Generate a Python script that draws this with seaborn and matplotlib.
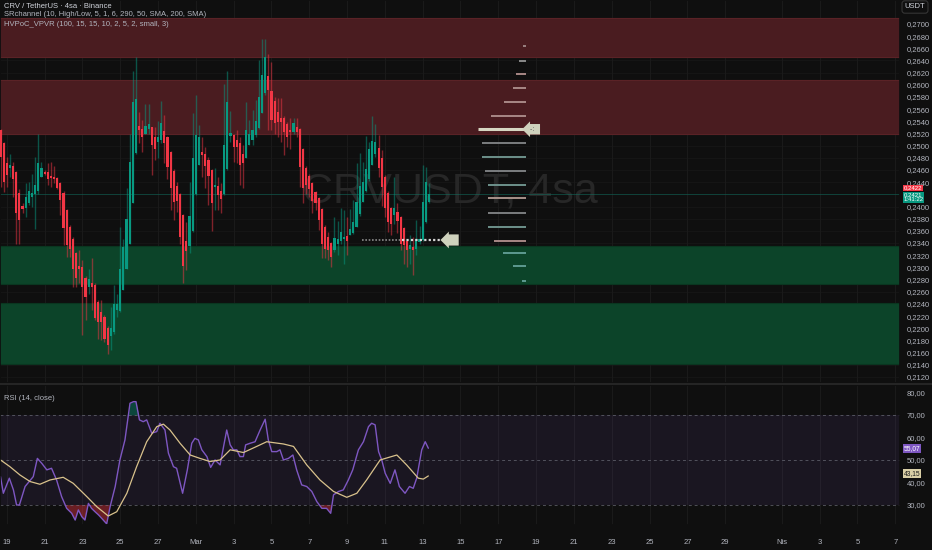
import matplotlib
matplotlib.use("Agg")
import matplotlib.pyplot as plt
import numpy as np
import seaborn as sns

# --- data: CRV/USDT 4h candles, first bar = Feb 18 16:00 ---
opens = [0.2526, 0.2504, 0.2472, 0.2463, 0.2466, 0.2457, 0.2423, 0.2401, 0.2397, 0.2406,
         0.2416, 0.2420, 0.2425, 0.2449, 0.2457, 0.2457, 0.2450, 0.2449, 0.2447, 0.2438,
         0.2423, 0.2394, 0.2366, 0.2347, 0.2323, 0.2303, 0.2301, 0.2283, 0.2268, 0.2274,
         0.2271, 0.2243, 0.2227, 0.2219, 0.2201, 0.2187, 0.2194, 0.2230, 0.2229, 0.2263,
         0.2298, 0.2339, 0.2406, 0.2488, 0.2532, 0.2528, 0.2520, 0.2528, 0.2531, 0.2515,
         0.2506, 0.2510, 0.2524, 0.2514, 0.2489, 0.2459, 0.2434, 0.2421, 0.2386, 0.2344,
         0.2335, 0.2360, 0.2420, 0.2469, 0.2490, 0.2487, 0.2476, 0.2460, 0.2432, 0.2434,
         0.2426, 0.2420, 0.2461, 0.2516, 0.2518, 0.2509, 0.2504, 0.2486, 0.2479, 0.2501,
         0.2509, 0.2517, 0.2529, 0.2553, 0.2586, 0.2614, 0.2590, 0.2573, 0.2555, 0.2546,
         0.2546, 0.2535, 0.2525, 0.2523, 0.2531, 0.2527, 0.2495, 0.2464, 0.2450, 0.2439,
         0.2424, 0.2414, 0.2396, 0.2367, 0.2350, 0.2340, 0.2328, 0.2339, 0.2344, 0.2347,
         0.2352, 0.2353, 0.2356, 0.2366, 0.2387, 0.2408, 0.2425, 0.2445, 0.2468, 0.2487,
         0.2497, 0.2479, 0.2449, 0.2423, 0.2398, 0.2386, 0.2391, 0.2383, 0.2364, 0.2343,
         0.2331, 0.2334, 0.2331, 0.2342, 0.2345, 0.2375, 0.2408]
highs = [0.2528, 0.2506, 0.2482, 0.2486, 0.2474, 0.2459, 0.2428, 0.2405, 0.2438, 0.2441,
         0.2453, 0.2482, 0.2520, 0.2474, 0.2460, 0.2471, 0.2474, 0.2466, 0.2449, 0.2440,
         0.2425, 0.2396, 0.2370, 0.2350, 0.2326, 0.2328, 0.2312, 0.2286, 0.2298, 0.2316,
         0.2274, 0.2246, 0.2246, 0.2222, 0.2203, 0.2235, 0.2271, 0.2257, 0.2367, 0.2347,
         0.2430, 0.2520, 0.2622, 0.2646, 0.2556, 0.2542, 0.2568, 0.2568, 0.2531, 0.2531,
         0.2541, 0.2574, 0.2550, 0.2516, 0.2491, 0.2461, 0.2441, 0.2423, 0.2388, 0.2375,
         0.2441, 0.2553, 0.2583, 0.2534, 0.2514, 0.2498, 0.2482, 0.2462, 0.2463, 0.2449,
         0.2438, 0.2602, 0.2623, 0.2557, 0.2520, 0.2526, 0.2515, 0.2501, 0.2571, 0.2542,
         0.2558, 0.2575, 0.2640, 0.2676, 0.2676, 0.2651, 0.2638, 0.2580, 0.2578, 0.2579,
         0.2548, 0.2539, 0.2545, 0.2545, 0.2545, 0.2529, 0.2497, 0.2466, 0.2454, 0.2441,
         0.2426, 0.2416, 0.2398, 0.2369, 0.2358, 0.2342, 0.2383, 0.2376, 0.2397, 0.2394,
         0.2383, 0.2396, 0.2411, 0.2472, 0.2488, 0.2474, 0.2516, 0.2506, 0.2549, 0.2535,
         0.2517, 0.2493, 0.2451, 0.2425, 0.2400, 0.2449, 0.2406, 0.2385, 0.2366, 0.2345,
         0.2353, 0.2350, 0.2378, 0.2368, 0.2468, 0.2465, 0.2438]
lows = [0.2432, 0.2424, 0.2432, 0.2449, 0.2416, 0.2339, 0.2339, 0.2389, 0.2383, 0.2402,
        0.2400, 0.2363, 0.2421, 0.2449, 0.2452, 0.2435, 0.2432, 0.2438, 0.2428, 0.2386,
        0.2337, 0.2317, 0.2317, 0.2268, 0.2268, 0.2274, 0.2189, 0.2213, 0.2257, 0.2230,
        0.2213, 0.2183, 0.2180, 0.2178, 0.2157, 0.2164, 0.2191, 0.2219, 0.2227, 0.2263,
        0.2298, 0.2339, 0.2406, 0.2487, 0.2504, 0.2490, 0.2520, 0.2519, 0.2452, 0.2476,
        0.2479, 0.2504, 0.2471, 0.2446, 0.2394, 0.2378, 0.2391, 0.2339, 0.2274, 0.2295,
        0.2323, 0.2358, 0.2419, 0.2468, 0.2449, 0.2430, 0.2402, 0.2360, 0.2394, 0.2394,
        0.2389, 0.2419, 0.2460, 0.2506, 0.2474, 0.2471, 0.2435, 0.2431, 0.2479, 0.2501,
        0.2501, 0.2515, 0.2528, 0.2553, 0.2583, 0.2526, 0.2526, 0.2520, 0.2515, 0.2506,
        0.2485, 0.2498, 0.2495, 0.2520, 0.2515, 0.2432, 0.2405, 0.2421, 0.2416, 0.2389,
        0.2394, 0.2361, 0.2315, 0.2315, 0.2312, 0.2300, 0.2326, 0.2320, 0.2339, 0.2306,
        0.2320, 0.2353, 0.2355, 0.2366, 0.2385, 0.2408, 0.2424, 0.2442, 0.2468, 0.2481,
        0.2449, 0.2401, 0.2383, 0.2358, 0.2353, 0.2372, 0.2356, 0.2328, 0.2305, 0.2300,
        0.2306, 0.2287, 0.2320, 0.2339, 0.2344, 0.2373, 0.2406]
closes = [0.2482, 0.2441, 0.2451, 0.2469, 0.2446, 0.2390, 0.2378, 0.2396, 0.2416, 0.2425,
          0.2423, 0.2435, 0.2472, 0.2463, 0.2454, 0.2446, 0.2447, 0.2446, 0.2430, 0.2411,
          0.2365, 0.2337, 0.2331, 0.2298, 0.2282, 0.2298, 0.2268, 0.2252, 0.2281, 0.2267,
          0.2216, 0.2211, 0.2211, 0.2183, 0.2173, 0.2201, 0.2240, 0.2240, 0.2298, 0.2334,
          0.2380, 0.2474, 0.2571, 0.2577, 0.2525, 0.2515, 0.2533, 0.2535, 0.2501, 0.2495,
          0.2515, 0.2538, 0.2504, 0.2465, 0.2430, 0.2408, 0.2409, 0.2350, 0.2303, 0.2327,
          0.2384, 0.2479, 0.2517, 0.2514, 0.2485, 0.2466, 0.2450, 0.2406, 0.2435, 0.2419,
          0.2413, 0.2501, 0.2571, 0.2521, 0.2498, 0.2498, 0.2468, 0.2472, 0.2526, 0.2519,
          0.2526, 0.2540, 0.2580, 0.2616, 0.2645, 0.2591, 0.2542, 0.2538, 0.2539, 0.2539,
          0.2522, 0.2515, 0.2522, 0.2537, 0.2523, 0.2465, 0.2431, 0.2435, 0.2428, 0.2409,
          0.2405, 0.2378, 0.2339, 0.2331, 0.2328, 0.2317, 0.2349, 0.2347, 0.2358, 0.2350,
          0.2344, 0.2363, 0.2374, 0.2408, 0.2434, 0.2440, 0.2461, 0.2495, 0.2508, 0.2506,
          0.2463, 0.2432, 0.2397, 0.2374, 0.2371, 0.2398, 0.2376, 0.2339, 0.2337, 0.2328,
          0.2337, 0.2328, 0.2346, 0.2347, 0.2408, 0.2440, 0.2421]

# SRchannel zones (low, high)
res_zones = [(0.2646, 0.2710), (0.2520, 0.2608)]
sup_zones = [(0.2273, 0.2335), (0.2142, 0.2242)]

# HVPoC_VPVR rows: price level, relative volume, colour
vp_prices = [0.2664, 0.2639, 0.2618, 0.2595, 0.2571, 0.2548, 0.2527, 0.2505, 0.2482,
             0.2459, 0.2435, 0.2414, 0.2390, 0.2367, 0.2344, 0.2323, 0.2302, 0.2278]
vp_volume = [3, 7, 10, 13, 22, 35, 48, 44, 44, 41, 38, 38, 38, 38, 32, 23, 13, 4]
vp_colors = ['#9a8080', '#8a8a8a', '#a88886', '#a88886', '#a88886', '#a88886', '#d6d7c3',
             '#7b7e80', '#6d918b', '#7b7e80', '#6d918b', '#a8928a', '#7b7e80', '#6d918b',
             '#a88886', '#5e9a90', '#5e9a90', '#5e9a90']

# RSI(14) and its moving average, read at bar positions
rsi_bar = [0, 0.9, 2.8, 4.1, 5.1, 6.0, 7.8, 10.4, 11.7, 13.1, 14.7, 16.2, 17.8, 19.4, 21.0,
           22.6, 23.7, 24.7, 25.8, 26.8, 27.9, 28.9, 30.0, 31.1, 32.1, 33.7, 34.8, 36.4,
           37.9, 39.5, 41.1, 42.2, 43.0, 44.1, 45.3, 46.4, 48.0, 49.6, 50.6, 52.2, 53.3,
           54.9, 55.9, 57.8, 59.3, 60.7, 61.7, 62.8, 63.9, 65.5, 66.7, 68.1, 69.7, 70.7,
           71.8, 72.9, 73.9, 75.0, 76.0, 77.1, 77.8, 79.2, 80.8, 82.4, 84.0, 85.0, 86.1,
           87.7, 88.7, 89.8, 91.4, 92.8, 94.0, 95.6, 97.2, 98.8, 100.4, 102.0, 103.5, 104.8,
           105.7, 107.3, 108.8, 110.4, 111.8, 113.6, 115.2, 116.8, 117.8, 118.9, 120.0,
           121.0, 122.1, 123.7, 125.2, 126.6, 128.4, 129.8, 131.0, 132.1, 133.7, 134.8, 135.8]
rsi_vals = [42.6, 35.2, 41.9, 36.7, 30.0, 30.0, 38.2, 42.6, 50.7, 48.5, 45.6, 46.3, 41.1,
            33.7, 28.5, 26.3, 23.3, 27.8, 24.8, 23.3, 30.7, 28.5, 27.0, 25.6, 24.1, 21.6,
            29.3, 38.2, 50.0, 58.9, 75.2, 75.9, 75.9, 67.8, 67.0, 67.8, 61.9, 62.6, 66.3,
            63.3, 53.0, 47.0, 46.3, 35.2, 45.6, 57.4, 59.6, 58.9, 54.5, 51.5, 46.7, 50.0,
            47.8, 55.2, 63.3, 56.7, 54.5, 54.5, 51.5, 51.5, 56.7, 57.4, 58.1, 63.3, 68.1,
            58.9, 53.7, 53.7, 54.5, 50.0, 50.7, 52.2, 45.6, 38.9, 38.2, 36.0, 31.5, 28.5,
            28.5, 26.3, 34.5, 36.0, 36.7, 41.1, 45.6, 54.5, 58.1, 64.8, 66.3, 65.6, 53.7,
            50.0, 44.1, 39.6, 45.6, 38.2, 35.2, 38.2, 37.4, 41.9, 54.5, 58.1, 55.2]
ma_bar = [0, 3.0, 6.2, 9.4, 12.5, 15.7, 19.9, 23.1, 27.4, 30.5, 34.2, 36.9, 40.1, 43.2,
          46.4, 49.6, 51.7, 53.8, 57.0, 60.2, 63.3, 66.5, 69.7, 72.9, 77.1, 81.3, 84.5,
          89.8, 93.0, 97.2, 101.4, 105.7, 109.9, 113.1, 116.2, 120.5, 125.8, 128.9, 132.6,
          134.2, 135.8]
ma_vals = [50.0, 47.0, 43.3, 40.4, 39.2, 41.1, 42.3, 39.6, 33.7, 29.3, 25.1, 27.0, 35.2,
           47.0, 58.1, 64.8, 65.9, 63.3, 57.4, 52.2, 50.7, 49.3, 50.0, 54.5, 53.3, 56.0,
           58.1, 57.1, 56.0, 47.8, 41.1, 36.0, 33.4, 35.2, 41.1, 50.0, 52.2, 47.8, 41.9,
           41.5, 42.9]

# x axis: days after Feb 19 and their labels
date_days = [0, 2, 4, 6, 8, 10, 12, 14, 16, 18, 20, 22, 24, 26, 28, 30, 32, 34, 36, 38,
             41, 43, 45, 47]
date_labels = ['19', '21', '23', '25', '27', 'Mar', '3', '5', '7', '9', '11', '13', '15',
               '17', '19', '21', '23', '25', '27', '29', 'Nis', '3', '5', '7']

BG = '#0f0f0f'
UP, DOWN = '#089981', '#f23645'
GRID = '#1b1b1b'
TXT = '#b2b5be'

sns.set_theme(style='dark', rc={'axes.facecolor': BG, 'figure.facecolor': BG,
                                'axes.edgecolor': BG, 'text.color': TXT})
plt.rcParams['font.family'] = ['Liberation Sans', 'DejaVu Sans']

W, H = 932, 550
fig = plt.figure(figsize=(W / 100, H / 100), dpi=100)
ax = fig.add_axes([0, 1 - 383 / H, 900 / W, 383 / H])
rax = fig.add_axes([0, 25 / H, 900 / W, 140 / H])

xs = np.arange(len(closes))
tick_x = [2 + 6 * d for d in date_days]
xlim = (-0.16, 285.5)

# ---- main price pane ----
ax.set_xlim(*xlim)
ax.set_ylim(0.2110, 0.27394)
for lo, hi in res_zones:
    ax.axhspan(lo, hi, color='#4a1c20', lw=0, zorder=0.2)
    ax.axhline(lo, color='#5a2226', lw=0.8, zorder=0.3)
    ax.axhline(hi, color='#5a2226', lw=0.8, zorder=0.3)
for lo, hi in sup_zones:
    ax.axhspan(lo, hi, color='#0c4429', lw=0, zorder=0.2)
    ax.axhline(lo, color='#0a3620', lw=0.8, zorder=0.3)
    ax.axhline(hi, color='#0a3620', lw=0.8, zorder=0.3)

for tx in tick_x:
    ax.axvline(tx, color=GRID, lw=0.7, zorder=0.1)
pticks = np.round(np.arange(0.212, 0.2701, 0.002), 4)
for p in pticks:
    ax.axhline(p, color=GRID, lw=0.7, zorder=0.1, alpha=0.6)

ax.text(142.7, 0.2424, 'CRVUSDT, 4sa', fontsize=31, color='#272727', ha='center',
        va='center', zorder=0.4)

o = np.array(opens); c = np.array(closes)
cols = np.where(c >= o, UP, DOWN)
ax.vlines(xs, lows, highs, colors=cols, lw=1.0, alpha=0.5, zorder=2)
body = np.maximum(np.abs(c - o), 0.00008)
ax.bar(xs, body, bottom=np.minimum(o, c), width=0.68, color=cols, lw=0, zorder=3)

ax.axhline(closes[-1], color=UP, lw=0.7, alpha=0.35, zorder=1)

# volume profile rows anchored on the right
vp_right = 166.8
vp_left = [vp_right - v / 3.15 for v in vp_volume]
lws = [2.2 if v == max(vp_volume) else 1.4 for v in vp_volume]
for p, l, col, lw in zip(vp_prices, vp_left, vp_colors, lws):
    ax.hlines(p, l, vp_right, colors=col, lw=lw, zorder=4)
ax.text(vp_right + 0.6, vp_prices[6], ' -:  ', fontsize=5, color='#555',
        va='center', ha='left', zorder=5,
        bbox=dict(boxstyle='larrow,pad=0.25', fc='#cfd2bd', ec='none'))

ax.hlines(0.2345, 114.8, 127.5, colors='#8a8a8a', lw=1.2, linestyles=(0, (1, 1)), zorder=4)
ax.hlines(0.2345, 127.5, 141.5, colors='#d8d8d8', lw=1.6, linestyles=(0, (1, 1)), zorder=4)
ax.text(141.6, 0.2345, '     ', fontsize=5, va='center', ha='left', zorder=5,
        bbox=dict(boxstyle='larrow,pad=0.3', fc='#cfd2bd', ec='none'))

# the 0,2420 label sits under the last-price tags, so it is left blank
ax.yaxis.tick_right()
ax.set_yticks(pticks)
ax.set_yticklabels(['' if abs(p - 0.242) < 1e-6 else f'{p:.4f}'.replace('.', ',')
                    for p in pticks])
ax.tick_params(axis='y', length=0, labelsize=5.5, labelcolor=TXT, pad=5)
ax.set_xticks([])
ax.grid(False)

ytr = ax.get_yaxis_transform()
ax.text(1.004, 0.24300, '0,2422', transform=ytr, fontsize=4.3, color='white', va='center',
        ha='left', bbox=dict(boxstyle='square,pad=0.08', fc=DOWN, ec='none'), clip_on=False)
ax.text(1.004, 0.24148, '0,2421\n1:41:22', transform=ytr, fontsize=4.3, color='white',
        va='center', ha='left', linespacing=0.95,
        bbox=dict(boxstyle='square,pad=0.08', fc=UP, ec='none'), clip_on=False)

# ---- RSI pane ----
rax.set_xlim(*xlim)
rax.set_ylim(21.1, 83.3)
rax.axhspan(30, 70, color='#7e57c2', alpha=0.1, lw=0)
for tx in tick_x:
    rax.axvline(tx, color=GRID, lw=0.7, zorder=0.1)
for lvl in (70, 50, 30):
    rax.axhline(lvl, color='#787b86', lw=0.7, alpha=0.6, linestyle=(0, (3, 3)))
rv = np.array(rsi_vals)
rax.fill_between(rsi_bar, rv, 30, where=rv < 30, interpolate=True, color=DOWN, alpha=0.4, lw=0)
rax.fill_between(rsi_bar, rv, 70, where=rv > 70, interpolate=True, color=UP, alpha=0.4, lw=0)
sns.lineplot(x=rsi_bar, y=rsi_vals, ax=rax, color='#7e57c2', lw=1.0, legend=False)
sns.lineplot(x=ma_bar, y=ma_vals, ax=rax, color='#d9c28c', lw=0.9, legend=False)

rax.yaxis.tick_right()
rax.set_yticks([30, 40, 50, 60, 70, 80])
rax.set_yticklabels([f'{v:.2f}'.replace('.', ',') for v in (30, 40, 50, 60, 70, 80)])
rax.tick_params(axis='y', length=0, labelsize=5.5, labelcolor=TXT, pad=5)
rax.set_xticks(tick_x)
rax.set_xticklabels(date_labels)
rax.tick_params(axis='x', length=0, labelsize=5.5, labelcolor=TXT, pad=10)
rax.set_xlabel(''); rax.set_ylabel('')
rax.grid(False)

rtr = rax.get_yaxis_transform()
rax.text(1.004, 54.9, '55,07', transform=rtr, fontsize=4.8, color='white', va='center',
         ha='left', bbox=dict(boxstyle='square,pad=0.15', fc='#7e57c2', ec='none'), clip_on=False)
rax.text(1.004, 44.0, '43,15', transform=rtr, fontsize=4.8, color='#1a1a1a', va='center',
         ha='left', bbox=dict(boxstyle='square,pad=0.15', fc='#d9cfa6', ec='none'), clip_on=False)
rax.text(0.005, 0.9, 'RSI (14, close)', transform=rax.transAxes, fontsize=5.5, color=TXT,
         va='center')

# pane separator and header texts
fig.add_artist(plt.Line2D([0, 1], [1 - 384 / H, 1 - 384 / H], color='#2a2a2a', lw=1.2,
                          transform=fig.transFigure))
fig.text(4 / W, 1 - 6 / H, 'CRV / TetherUS · 4sa · Binance', fontsize=5.5, color='#d1d4dc',
         va='center')
fig.text(4 / W, 1 - 15 / H, 'SRchannel (10, High/Low, 5, 1, 6, 290, 50, SMA, 200, SMA)',
         fontsize=5.5, color=TXT, va='center')
fig.text(4 / W, 1 - 24 / H, 'HVPoC_VPVR (100, 15, 15, 10, 2, 5, 2, small, 3)',
         fontsize=5.5, color=TXT, va='center')
fig.text(915 / W, 1 - 7 / H, 'USDT', fontsize=5.5, color='#d1d4dc', ha='center', va='center',
         bbox=dict(boxstyle='round,pad=0.35', fc=BG, ec='#3a3a3a', lw=0.7))

fig.savefig('out.png', dpi=100, facecolor=BG)
